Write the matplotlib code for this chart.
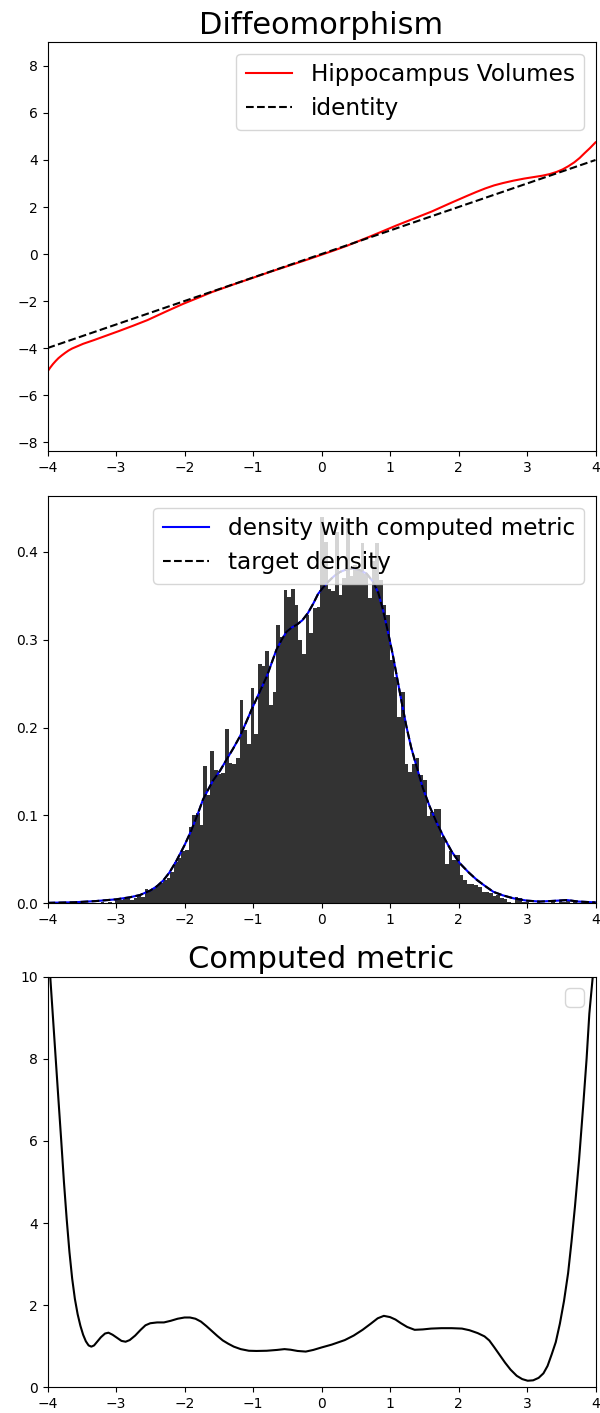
import numpy as np
import matplotlib
matplotlib.use("Agg")
import matplotlib.pyplot as plt
import warnings

# ---------------- data ----------------
# Diffeomorphism (top panel)
diffeo_x = [-4.0, -3.96, -3.92, -3.88, -3.84, -3.79, -3.74, -3.69, -3.64, -3.56, -3.48,
            -3.40, -3.32, -3.14, -2.96, -2.75, -2.54, -2.28, -2.02, -1.80, -1.60, -1.30,
            -0.98, -0.72, -0.46, -0.22, 0.0, 0.18, 0.37, 0.55, 0.73, 0.91, 1.09, 1.35,
            1.61, 1.87, 2.13, 2.26, 2.39, 2.52, 2.65, 2.80, 2.96, 3.09, 3.22, 3.33,
            3.43, 3.52, 3.60, 3.69, 3.77, 3.84, 3.92, 4.0]
diffeo_y = [-5.0, -4.83, -4.68, -4.55, -4.43, -4.31, -4.20, -4.10, -4.02, -3.92, -3.82,
            -3.74, -3.66, -3.47, -3.28, -3.05, -2.81, -2.46, -2.12, -1.86, -1.62, -1.31,
            -0.99, -0.73, -0.48, -0.25, -0.03, 0.15, 0.35, 0.56, 0.77, 0.99, 1.21, 1.51,
            1.81, 2.15, 2.48, 2.64, 2.79, 2.92, 3.02, 3.12, 3.21, 3.27, 3.33, 3.40,
            3.49, 3.60, 3.73, 3.90, 4.09, 4.29, 4.51, 4.75]
identity_x = [-4.0, 4.0]
identity_y = [-4.0, 4.0]

# Histogram (middle panel)
hist_start = -3.6
hist_width = 0.0535
hist_heights = [
    0.0019, 0.0019, 0.0, 0.0, 0.0, 0.0, 0.0, 0.0019, 0.0, 0.0019,
    0.0, 0.0037, 0.0037, 0.0056, 0.0056, 0.0037, 0.0056, 0.0093, 0.0075, 0.016,
    0.015, 0.017, 0.021, 0.023, 0.026, 0.0285, 0.036, 0.047, 0.051, 0.060,
    0.061, 0.087, 0.100, 0.103, 0.089, 0.156, 0.123, 0.173, 0.152, 0.147,
    0.148, 0.198, 0.160, 0.159, 0.165, 0.231, 0.197, 0.181, 0.245, 0.193,
    0.272, 0.270, 0.287, 0.226, 0.240, 0.317, 0.303, 0.356, 0.349, 0.358,
    0.339, 0.300, 0.284, 0.328, 0.307, 0.336, 0.337, 0.440, 0.411, 0.358,
    0.355, 0.423, 0.351, 0.370, 0.438, 0.372, 0.385, 0.380, 0.410, 0.375,
    0.347, 0.390, 0.410, 0.368, 0.339, 0.328, 0.277, 0.258, 0.212, 0.240,
    0.159, 0.149, 0.159, 0.165, 0.146, 0.140, 0.099, 0.104, 0.107, 0.107,
    0.075, 0.045, 0.060, 0.049, 0.055, 0.032, 0.027, 0.022, 0.022, 0.021,
    0.019, 0.013, 0.013, 0.0114, 0.0083, 0.0095, 0.0057, 0.0045, 0.0019, 0.0,
    0.0068, 0.0056, 0.0019, 0.0019, 0.0, 0.0, 0.0019, 0.0, 0.0, 0.0,
    0.0037, 0.0, 0.0037, 0.0019, 0.0037, 0.0, 0.0019]

# density curve (computed metric and target overlap)
density_x = [-4.0, -3.6, -3.3, -3.0, -2.8, -2.65, -2.5, -2.4, -2.31, -2.22, -2.12,
             -2.0, -1.90, -1.80, -1.73, -1.65, -1.58, -1.48, -1.39, -1.29, -1.19,
             -1.10, -1.0, -0.90, -0.80, -0.73, -0.66, -0.58, -0.51, -0.43, -0.36,
             -0.28, -0.20, -0.12, -0.05, 0.02, 0.10, 0.18, 0.27, 0.37, 0.46, 0.56,
             0.66, 0.75, 0.83, 0.90, 0.975, 1.04, 1.10, 1.17, 1.24, 1.31, 1.39,
             1.48, 1.58, 1.68, 1.78, 1.90, 2.02, 2.15, 2.27, 2.40, 2.51, 2.65,
             2.80, 3.0, 3.19, 3.4, 3.58, 3.75, 4.0]
density_y = [0.0005, 0.0012, 0.0025, 0.0045, 0.0068, 0.0094, 0.0145, 0.0195, 0.026,
             0.035, 0.048, 0.066, 0.083, 0.103, 0.118, 0.130, 0.140, 0.151, 0.163,
             0.176, 0.190, 0.206, 0.224, 0.241, 0.258, 0.273, 0.288, 0.300, 0.309,
             0.314, 0.317, 0.322, 0.330, 0.341, 0.352, 0.359, 0.366, 0.372, 0.377,
             0.380, 0.381, 0.379, 0.375, 0.366, 0.353, 0.333, 0.307, 0.283, 0.258,
             0.229, 0.201, 0.177, 0.155, 0.131, 0.110, 0.092, 0.076, 0.059, 0.0455,
             0.035, 0.0265, 0.019, 0.013, 0.009, 0.0057, 0.003, 0.002, 0.0028,
             0.0037, 0.002, 0.001]

# Computed metric (bottom panel)
metric_x = [-4.0, -3.96, -3.92, -3.88, -3.84, -3.80, -3.76, -3.72, -3.68, -3.64, -3.60,
            -3.56, -3.52, -3.48, -3.44, -3.40, -3.36, -3.32, -3.27, -3.22, -3.16, -3.11,
            -3.05, -2.98, -2.92, -2.86, -2.80, -2.72, -2.64, -2.57, -2.50, -2.40, -2.30,
            -2.20, -2.10, -2.0, -1.92, -1.84, -1.76, -1.68, -1.60, -1.52, -1.44, -1.36,
            -1.28, -1.18, -1.06, -0.95, -0.80, -0.65, -0.54, -0.45, -0.35, -0.23, -0.12,
            0.0, 0.15, 0.34, 0.47, 0.60, 0.72, 0.82, 0.91, 1.0, 1.08, 1.16, 1.25, 1.36,
            1.48, 1.60, 1.75, 1.90, 2.05, 2.16, 2.28, 2.38, 2.45, 2.52, 2.60, 2.68, 2.76,
            2.85, 2.93, 3.01, 3.09, 3.17, 3.24, 3.30, 3.36, 3.42, 3.48, 3.54, 3.60, 3.65,
            3.70, 3.76, 3.82, 3.87, 3.91, 3.96, 4.0]
metric_y = [11.3, 10.0, 9.0, 8.0, 7.0, 6.02, 5.0, 4.1, 3.3, 2.65, 2.15,
            1.78, 1.50, 1.28, 1.12, 1.02, 0.99, 1.02, 1.12, 1.22, 1.31, 1.33,
            1.28, 1.20, 1.13, 1.11, 1.15, 1.26, 1.40, 1.51, 1.56, 1.58, 1.58,
            1.62, 1.67, 1.70, 1.70, 1.67, 1.60, 1.49, 1.37, 1.25, 1.14, 1.06,
            0.99, 0.93, 0.89, 0.885, 0.89, 0.91, 0.93, 0.915, 0.885, 0.87, 0.91,
            0.97, 1.04, 1.15, 1.26, 1.40, 1.55, 1.68, 1.74, 1.71, 1.65, 1.56, 1.47, 1.40,
            1.41, 1.43, 1.44, 1.44, 1.43, 1.39, 1.32, 1.24, 1.14, 0.98, 0.79, 0.60, 0.43,
            0.28, 0.20, 0.16, 0.17, 0.23, 0.34, 0.52, 0.80, 1.10, 1.55, 2.10, 2.78, 3.55,
            4.40, 5.54, 6.85, 8.0, 9.1, 10.0, 11.0]

# ---------------- figure ----------------
fig = plt.figure(figsize=(6.0, 14.13), dpi=100)
W, H = 600.0, 1413.0

def add_axes(left, right, top, bottom):
    return fig.add_axes([left / W, 1 - bottom / H, (right - left) / W, (bottom - top) / H])

ax1 = add_axes(47.5, 595.5, 42.0, 451.0)
ax2 = add_axes(47.5, 595.5, 496.0, 903.3)
ax3 = add_axes(47.5, 595.5, 976.7, 1387.3)

LEG_FS = 16.7
TITLE_FS = 22

# top
ax1.plot(diffeo_x, diffeo_y, color='red', lw=1.5, label='Hippocampus Volumes')
ax1.plot(identity_x, identity_y, 'k--', lw=1.5, label='identity')
ax1.set_xlim(-4, 4)
ax1.set_ylim(-8.38, 9.02)
ax1.set_yticks([-8, -6, -4, -2, 0, 2, 4, 6, 8])
ax1.set_title('Diffeomorphism', fontsize=TITLE_FS)
ax1.legend(loc='upper right', fontsize=LEG_FS)

# middle
lefts = hist_start + hist_width * np.arange(len(hist_heights))
ax2.bar(lefts, hist_heights, width=hist_width, align='edge', color='k', alpha=0.8,
        linewidth=0)
ax2.plot(density_x, density_y, color='blue', lw=1.5, label='density with computed metric')
ax2.plot(density_x, density_y, 'k--', lw=1.5, label='target density')
ax2.set_xlim(-4, 4)
ax2.set_ylim(0, 0.4634)
ax2.set_yticks([0.0, 0.1, 0.2, 0.3, 0.4])
ax2.legend(loc='upper right', fontsize=LEG_FS)

# bottom
ax3.plot(metric_x, metric_y, color='black', lw=1.5)
ax3.set_xlim(-4, 4)
ax3.set_ylim(0, 10)
ax3.set_title('Computed metric', fontsize=TITLE_FS)
with warnings.catch_warnings():
    warnings.simplefilter('ignore')
    ax3.legend(loc='upper right', fontsize=LEG_FS)

for ax in (ax1, ax2, ax3):
    ax.set_xticks([-4, -3, -2, -1, 0, 1, 2, 3, 4])
    ax.tick_params(labelsize=10)

fig.savefig('out.png', dpi=100)
